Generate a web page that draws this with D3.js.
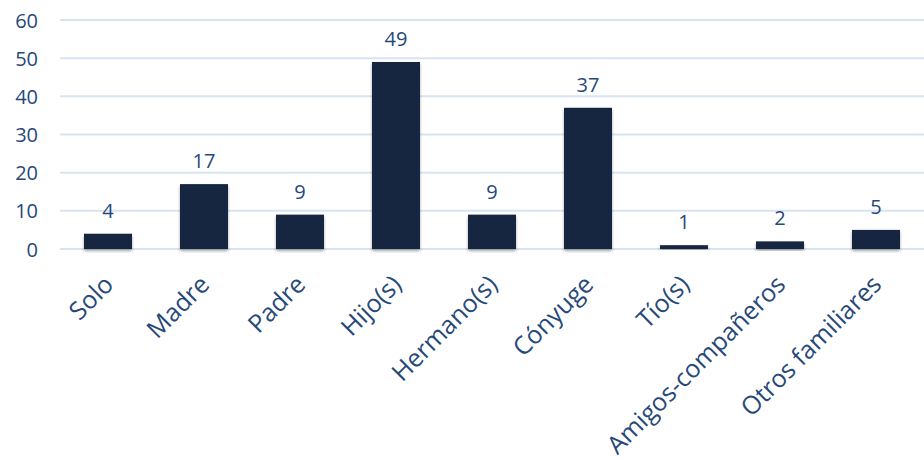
<!DOCTYPE html>
<html><head><meta charset="utf-8">
<script src="https://cdn.jsdelivr.net/npm/d3@7"></script>
<style>body{margin:0;background:#fff}svg{display:block}</style>
</head><body>
<svg id="c" width="924" height="460"></svg>
<script>
const categories = ["Solo","Madre","Padre","Hijo(s)","Hermano(s)","Cónyuge","Tío(s)","Amigos-compañeros","Otros familiares"];
const values = [4,17,9,49,9,37,1,2,5];
const yTicks = [0,10,20,30,40,50,60];

const svg = d3.select("#c");
const font = "'Open Sans', sans-serif";
const textColor = "#26497a";
const x = d3.scaleBand().domain(categories).range([60,924]).paddingInner(0.5).paddingOuter(0.25);
const y = d3.scaleLinear().domain([0,60]).range([249,20]);

const defs = svg.append("defs");
const f = defs.append("filter").attr("id","sh").attr("x","-20%").attr("y","-20%").attr("width","140%").attr("height","140%");
f.append("feDropShadow").attr("dx",0).attr("dy",2).attr("stdDeviation",1.5).attr("flood-color","#000").attr("flood-opacity",0.35);

// gridlines
svg.append("g").selectAll("line").data(yTicks).join("line")
  .attr("x1",60).attr("x2",924).attr("y1",d=>y(d)).attr("y2",d=>y(d))
  .attr("stroke","#d8e3f1").attr("stroke-width",2);

// y axis labels
const yAxis = d3.axisLeft(y).tickValues(yTicks).tickSize(0).tickPadding(0);
const ga = svg.append("g").attr("transform","translate(38,0)").call(yAxis);
ga.select(".domain").remove();
ga.selectAll("text").attr("font-family",font).attr("font-size",20).attr("fill",textColor).attr("dy","0.35em");

// bars
svg.append("g").selectAll("rect").data(values).join("rect")
  .attr("x",(d,i)=>x(categories[i])).attr("width",x.bandwidth())
  .attr("y",d=>y(d)).attr("height",d=>y(0)-y(d))
  .attr("fill","#13263f").attr("filter","url(#sh)");

// value labels
svg.append("g").selectAll("text").data(values).join("text")
  .attr("x",(d,i)=>x(categories[i])+x.bandwidth()/2).attr("y",d=>y(d)-16)
  .attr("text-anchor","middle").attr("font-family",font).attr("font-size",20).attr("fill",textColor)
  .text(d=>d);

// x labels
const xAxis = d3.axisBottom(x).tickSize(0).tickPadding(0);
const gx = svg.append("g").attr("transform","translate(0,262)").call(xAxis);
gx.select(".domain").remove();
gx.selectAll("text").attr("font-family",font).attr("font-size",25).attr("fill",textColor)
  .attr("text-anchor","end").attr("dy",0)
  .attr("transform","translate(7,24) rotate(-45)");
</script>
</body></html>
